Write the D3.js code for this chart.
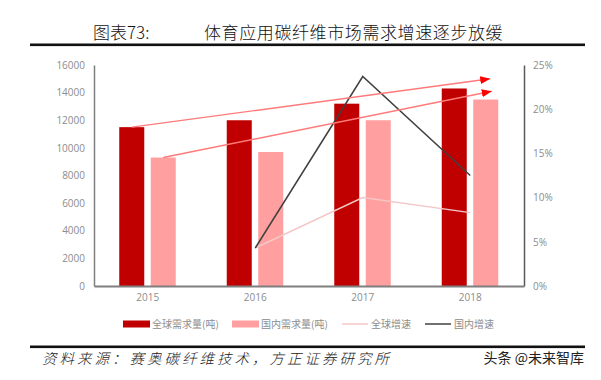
<!DOCTYPE html>
<html><head><meta charset="utf-8">
<script src="https://cdn.jsdelivr.net/npm/d3@7"></script>
<style>body{margin:0;background:#fff}svg{display:block}</style>
</head><body>
<svg id="c" width="601" height="380"></svg>
<script>
const years = ["2015", "2016", "2017", "2018"];
const globalDemand = [11500, 12000, 13200, 14300];
const domesticDemand = [9300, 9700, 12000, 13500];
const globalGrowth = [null, 0.043, 0.100, 0.083];
const domesticGrowth = [null, 0.043, 0.237, 0.125];
const leftTicks = [0, 2000, 4000, 6000, 8000, 10000, 12000, 14000, 16000];
const rightTicks = [0, 0.05, 0.10, 0.15, 0.20, 0.25];
const seriesNames = ["全球需求量(吨)", "国内需求量(吨)", "全球增速", "国内增速"];
// trend arrows: start at 2015 bar tops, end near 2018 (values on left axis)
const arrowStartValues = [11500, 9300];
const arrowEndValues = [15000, 14100];
const titleLabel = "图表73:";
const titleText = "体育应用碳纤维市场需求增速逐步放缓";
const sourceText = "资料来源：赛奥碳纤维技术，方正证券研究所";
const watermark = "头条 @未来智库";

const svg = d3.select("#c");
svg.append("rect").attr("width", 601).attr("height", 380).attr("fill", "#fff");

const C = {dark: "#C00000", light: "#FF9F9F", gLine: "#F4C7C7", dLine: "#404040", axis: "#808080", text: "#8C8C8C", arrow: "#FF0000"};

const x = d3.scaleBand().domain(years).range([94, 524]);
const xs = d3.scaleBand().domain(["g", "d"]).range([-28.5, 28]).paddingInner(0.206);
const yL = d3.scaleLinear().domain([0, 16000]).range([286, 65]);
const yR = d3.scaleLinear().domain([0, 0.25]).range([286, 65]);
const cx = d => x(d) + x.bandwidth() / 2;

// title
svg.append("text").attr("x", 93).attr("y", 39).text(titleLabel)
  .attr("font-family", "Noto Sans CJK SC").attr("font-size", 17).attr("font-weight", 300).attr("fill", "#111");
svg.append("text").attr("x", 204).attr("y", 39).text(titleText)
  .attr("font-family", "Noto Sans CJK SC").attr("font-size", 17).attr("font-weight", 300).attr("letter-spacing", 0.6).attr("fill", "#111");
svg.append("rect").attr("x", 30).attr("y", 43.5).attr("width", 555).attr("height", 2.6).attr("fill", "#111");

// bars
const g = svg.append("g");
years.forEach((yr, i) => {
  g.append("rect").attr("x", cx(yr) + xs("g")).attr("width", xs.bandwidth())
    .attr("y", yL(globalDemand[i])).attr("height", yL(0) - yL(globalDemand[i])).attr("fill", C.dark);
  g.append("rect").attr("x", cx(yr) + xs("d")).attr("width", xs.bandwidth())
    .attr("y", yL(domesticDemand[i])).attr("height", yL(0) - yL(domesticDemand[i])).attr("fill", C.light);
});

// axes
const axL = svg.append("g").attr("transform", "translate(94,0)")
  .call(d3.axisLeft(yL).tickValues(leftTicks).tickSize(0).tickPadding(9).tickFormat(d3.format("d")));
const axR = svg.append("g").attr("transform", "translate(524,0)")
  .call(d3.axisRight(yR).tickValues(rightTicks).tickSize(0).tickPadding(9).tickFormat(d3.format(".0%")));
const axB = svg.append("g").attr("transform", "translate(0,286)")
  .call(d3.axisBottom(x).tickSize(0).tickPadding(8));
[axL, axR, axB].forEach(a => {
  a.selectAll("text").attr("font-family", "Open Sans, sans-serif").attr("font-size", 10).attr("fill", C.text);
});
axL.select(".domain").attr("stroke", "#7f7f7f").attr("stroke-width", 1.5);
axR.select(".domain").attr("stroke", "#595959").attr("stroke-width", 1.5);
axB.select(".domain").attr("stroke", "#7f7f7f").attr("stroke-width", 2);

// growth lines
const line = d3.line().defined(d => d[1] != null).x(d => cx(d[0])).y(d => yR(d[1]));
svg.append("path").datum(years.map((y, i) => [y, globalGrowth[i]]))
  .attr("d", line).attr("fill", "none").attr("stroke", C.gLine).attr("stroke-width", 1.5);
svg.append("path").datum(years.map((y, i) => [y, domesticGrowth[i]]))
  .attr("d", line).attr("fill", "none").attr("stroke", C.dLine).attr("stroke-width", 1.5);

// arrows
const defs = svg.append("defs");
defs.append("marker").attr("id", "ah").attr("viewBox", "0 0 10 8").attr("refX", 10).attr("refY", 4)
  .attr("markerWidth", 10).attr("markerHeight", 8).attr("markerUnits", "userSpaceOnUse").attr("orient", "auto")
  .append("path").attr("d", "M0,0L10,4L0,8Z").attr("fill", C.arrow);
const startKeys = ["g", "d"];
arrowStartValues.forEach((v, i) => {
  const x0 = cx(years[0]) + xs(startKeys[i]) + xs.bandwidth() / 2;
  const x1 = cx(years[3]) + 20 + i * 1.5;
  svg.append("line").attr("x1", x0).attr("y1", yL(v)).attr("x2", x1).attr("y2", yL(arrowEndValues[i]))
    .attr("stroke", "#FF7a7a").attr("stroke-width", 1.4).attr("marker-end", "url(#ah)");
});

// legend
const lg = svg.append("g").attr("font-family", "Noto Sans CJK SC").attr("font-size", 10).attr("fill", C.text);
const lx = [123, 232, 342, 425];
lg.append("rect").attr("x", lx[0]).attr("y", 320.5).attr("width", 27).attr("height", 7).attr("fill", C.dark);
lg.append("rect").attr("x", lx[1]).attr("y", 320.5).attr("width", 27).attr("height", 7).attr("fill", C.light);
lg.append("line").attr("x1", lx[2]).attr("x2", lx[2] + 26).attr("y1", 324).attr("y2", 324).attr("stroke", C.gLine).attr("stroke-width", 1.5);
lg.append("line").attr("x1", lx[3]).attr("x2", lx[3] + 26).attr("y1", 324).attr("y2", 324).attr("stroke", C.dLine).attr("stroke-width", 1.5);
seriesNames.forEach((n, i) => {
  lg.append("text").attr("x", lx[i] + 29).attr("y", 327.5).text(n);
});

// footer
svg.append("rect").attr("x", 30).attr("y", 345.5).attr("width", 555).attr("height", 2.6).attr("fill", "#111");
svg.append("text").attr("x", 42).attr("y", 364).text(sourceText)
  .attr("font-family", "Noto Sans CJK SC").attr("font-size", 14.5).attr("font-style", "italic").attr("font-weight", 300)
  .attr("letter-spacing", 3).attr("fill", "#222");
svg.append("text").attr("x", 584).attr("y", 363).attr("text-anchor", "end").text(watermark)
  .attr("font-family", "Noto Sans CJK SC").attr("font-size", 14).attr("fill", "#222");
</script>
</body></html>
